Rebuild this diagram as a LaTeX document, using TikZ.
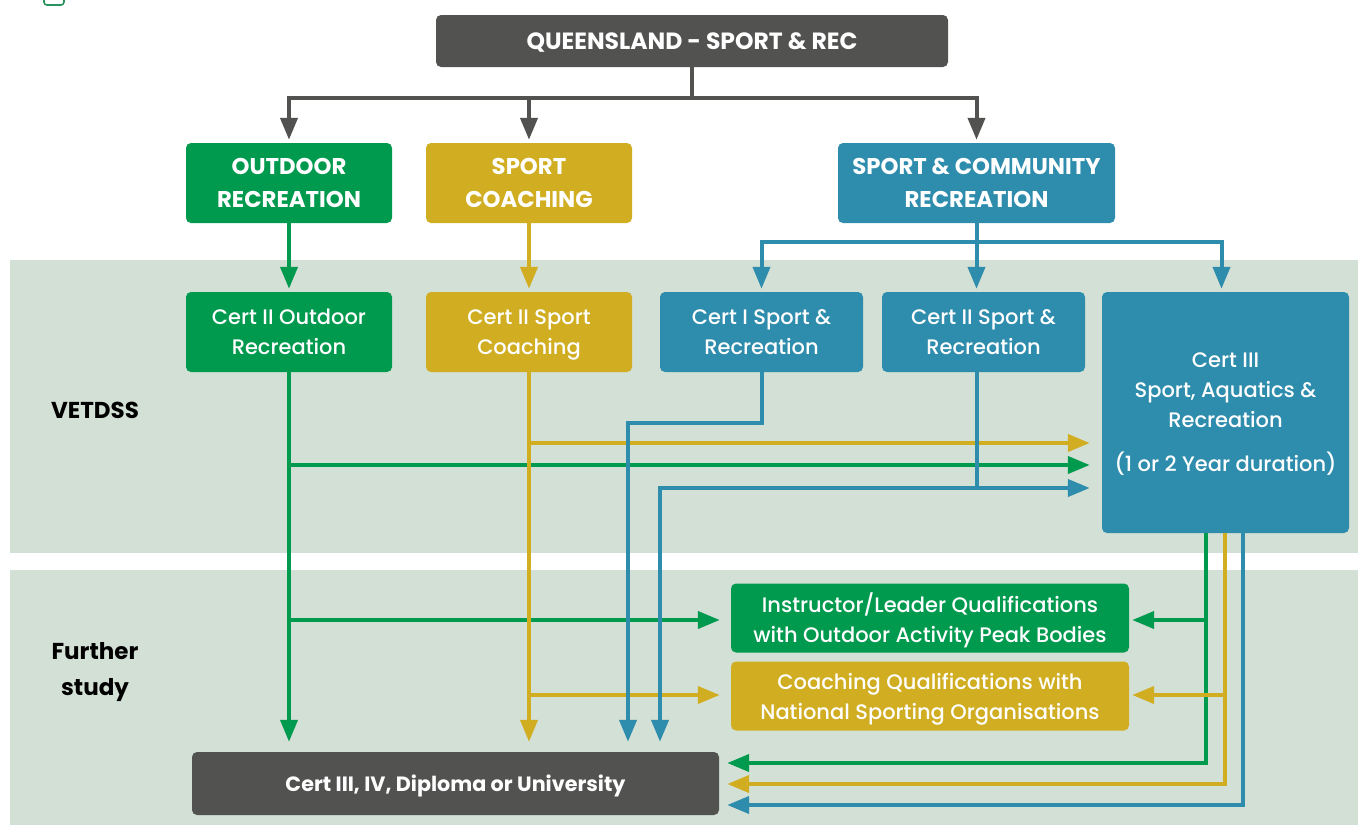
\documentclass[tikz,border=0pt]{standalone}
\usepackage{fontspec}
\setmainfont{Poppins}
\newfontfamily\popmed{Poppins Medium}
\usetikzlibrary{arrows.meta}

\definecolor{qgreen}{RGB}{0,154,78}
\definecolor{qgold}{RGB}{209,173,34}
\definecolor{qteal}{RGB}{46,140,173}
\definecolor{qdark}{RGB}{82,83,81}
\definecolor{qband}{RGB}{211,224,213}

\begin{document}
\begin{tikzpicture}[x=1pt,y=-1pt,
    box/.style={rounded corners=5pt, fill=#1, text=white, align=center, inner sep=0pt, text depth=0pt},
    head/.style={font=\fontsize{22.8}{33}\selectfont\bfseries},
    cert/.style={font=\fontsize{21}{30}\selectfont\popmed},
    conn/.style={draw=#1, line width=4pt, -{Triangle[length=22pt,width=17pt]}, shorten >=3pt},
    wire/.style={draw=#1, line width=4pt}]
    \useasboundingbox (0,0) rectangle (1358,825);

    % bands
    \fill[qband] (10,260) rectangle (1358,553);
    \fill[qband] (10,570) rectangle (1358,825);
    \draw[rounded corners=3pt, draw=qgreen!70!gray, line width=1.6pt] (44,-20) rectangle (64,5);

    \node[font=\fontsize{23}{30}\selectfont\bfseries] (vet) at (95,410) {VETDSS};
    \node[font=\fontsize{23}{36}\selectfont\bfseries, align=center] (further) at (95,672) {Further\\study};

    % boxes
    \node[box=qdark, font=\fontsize{23.5}{33}\selectfont\bfseries, minimum width=512pt, minimum height=52pt] (qld) at (692,41) {QUEENSLAND - SPORT \& REC};

    \node[box=qgreen, head, minimum width=206pt, minimum height=80pt] (outrec) at (289,183) {OUTDOOR\\RECREATION};
    \node[box=qgold, head, minimum width=206pt, minimum height=80pt] (spcoach) at (529,183) {SPORT\\COACHING};
    \node[box=qteal, head, minimum width=277pt, minimum height=80pt] (sprec) at (976.5,183) {SPORT \& COMMUNITY\\RECREATION};

    \node[box=qgreen, cert, minimum width=206pt, minimum height=80pt] (c2out) at (289,332) {Cert II Outdoor\\Recreation};
    \node[box=qgold, cert, minimum width=206pt, minimum height=80pt] (c2coach) at (529,332) {Cert II Sport\\Coaching};
    \node[box=qteal, cert, minimum width=203pt, minimum height=80pt] (c1sr) at (761.5,332) {Cert I Sport \&\\Recreation};
    \node[box=qteal, cert, minimum width=203pt, minimum height=80pt] (c2sr) at (983.5,332) {Cert II Sport \&\\Recreation};
    \node[box=qteal, cert, minimum width=247pt, minimum height=241pt] (c3) at (1225.5,412.5) {Cert III\\Sport, Aquatics \&\\Recreation\\[14pt](1 or 2 Year duration)};

    \node[box=qgreen, cert, minimum width=398pt, minimum height=69pt] (instr) at (930,618) {Instructor/Leader Qualifications\\with Outdoor Activity Peak Bodies};
    \node[box=qgold, cert, minimum width=398pt, minimum height=69pt] (coachq) at (930,696) {Coaching Qualifications with\\National Sporting Organisations};
    \node[box=qdark, font=\fontsize{20.7}{30}\selectfont\bfseries, minimum width=527pt, minimum height=63pt] (higher) at (455.5,783.5) {Cert III, IV, Diploma or University};

    % rows and columns
    \coordinate (topbar) at (0,98);
    \coordinate (tbar) at (0,242);
    \coordinate (t1) at (0,423);
    \coordinate (rowA) at (0,443);
    \coordinate (rowB) at (0,465);
    \coordinate (rowC) at (0,488);
    \coordinate (rowD) at (0,620);
    \coordinate (rowE) at (0,695);
    \coordinate (rowG) at (0,763);
    \coordinate (rowH) at (0,784);
    \coordinate (rowT) at (0,805);
    \coordinate (colA) at (628,0);
    \coordinate (colB) at (660,0);

    % top level
    \draw[conn=qdark] (qld.south) -- (qld.south |- topbar) -| (outrec.north);
    \draw[conn=qdark] (qld.south |- topbar) -| (spcoach.north);
    \draw[conn=qdark] (qld.south |- topbar) -| (sprec.north);

    % green
    \draw[conn=qgreen] (outrec.south) -- (c2out.north);
    \draw[conn=qgreen, shorten >=10pt] (c2out.south) -- (c2out.south |- higher.north);
    \draw[conn=qgreen, shorten >=12pt] (c2out.south |- rowB) -- (c3.west |- rowB);
    \draw[conn=qgreen, shorten >=11pt] (c2out.south |- rowD) -- (instr.west |- rowD);

    % gold
    \draw[conn=qgold] (spcoach.south) -- (c2coach.north);
    \draw[conn=qgold, shorten >=10pt] (c2coach.south) -- (c2coach.south |- higher.north);
    \draw[conn=qgold, shorten >=12pt] (c2coach.south |- rowA) -- (c3.west |- rowA);
    \draw[conn=qgold, shorten >=11pt] (c2coach.south |- rowE) -- (coachq.west |- rowE);

    % teal
    \draw[wire=qteal] (sprec.south) -- (sprec.south |- tbar);
    \draw[conn=qteal] (sprec.south |- tbar) -| (c1sr.north);
    \draw[conn=qteal] (sprec.south |- tbar) -- (c2sr.north -| sprec.south);
    \draw[conn=qteal] (sprec.south |- tbar) -| ([xshift=-4pt]c3.north);
    \draw[conn=qteal, shorten >=10pt] (c1sr.south) |- (colA |- t1) -- (colA |- higher.north);
    \draw[conn=qteal, shorten >=10pt] (sprec.south |- c2sr.south) |- (colB |- rowC) -- (colB |- higher.north);
    \draw[conn=qteal, shorten >=12pt] (sprec.south |- rowC) -- (c3.west |- rowC);

    % from cert III
    \draw[conn=qgreen, shorten >=8pt] ([xshift=-20pt]c3.south) |- (higher.east |- rowG);
    \draw[conn=qgreen] ([xshift=-20pt]c3.south |- rowD) -- (instr.east |- rowD);
    \draw[conn=qgold, shorten >=8pt] ([xshift=-1pt]c3.south) |- (higher.east |- rowH);
    \draw[conn=qgold] ([xshift=-1pt]c3.south |- rowE) -- (coachq.east |- rowE);
    \draw[conn=qteal, shorten >=8pt] ([xshift=17pt]c3.south) |- (higher.east |- rowT);

\end{tikzpicture}
\end{document}
